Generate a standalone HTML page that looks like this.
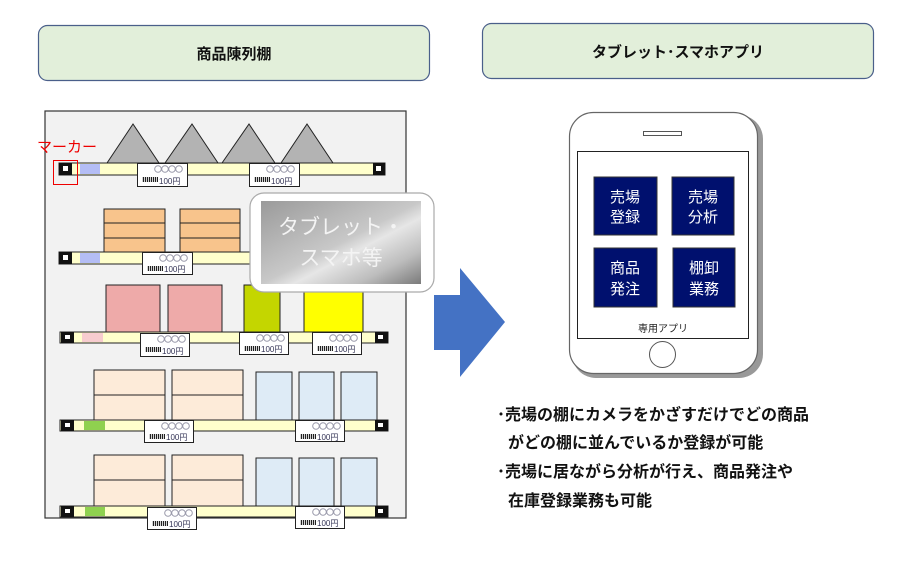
<!DOCTYPE html>
<html><head><meta charset="utf-8"><style>
body{margin:0;background:#fff}
svg{display:block;font-family:"Liberation Sans","Noto Sans CJK JP",sans-serif}
</style></head><body>
<svg width="900" height="572" viewBox="0 0 900 572" xmlns="http://www.w3.org/2000/svg">
<defs>
<linearGradient id="gg" x1="0" y1="0" x2="1" y2="1">
<stop offset="0" stop-color="#9a9a9a"/><stop offset="0.5" stop-color="#c8c8c8"/><stop offset="0.6" stop-color="#e6e6e6"/><stop offset="0.8" stop-color="#bdbdbd"/><stop offset="1" stop-color="#7a7a7a"/>
</linearGradient>
<pattern id="bc" width="2" height="5" patternUnits="userSpaceOnUse"><rect width="1.2" height="5" fill="#222"/></pattern>
</defs>
<!-- headers -->
<rect x="38.5" y="25.5" width="391" height="55" rx="9" fill="#e2efda" stroke="#4a5f8a" stroke-width="1.2"/>
<text x="234" y="59" font-size="15" font-weight="bold" text-anchor="middle" fill="#111">商品陳列棚</text>
<rect x="482.5" y="23.5" width="391" height="55" rx="9" fill="#e2efda" stroke="#4a5f8a" stroke-width="1.2"/>
<text x="678" y="57" font-size="15" font-weight="bold" text-anchor="middle" fill="#111">タブレット･スマホアプリ</text>

<!-- shelf frame -->
<rect x="45" y="111" width="361" height="407" fill="#f2f2f2" stroke="#333" stroke-width="1.2"/>
<!-- triangles -->
<g fill="#b3b3b3" stroke="#222" stroke-width="1">
<polygon points="107,163 133,124 159,163"/><polygon points="165,163 192,124 218,163"/>
<polygon points="222,163 249,124 275,163"/><polygon points="281,163 307,124 333,163"/>
</g>
<!-- row2 orange -->
<g fill="#f8c48c" stroke="#222" stroke-width="1">
<rect x="104" y="209" width="61" height="14"/><rect x="104" y="223" width="61" height="15"/><rect x="104" y="238" width="61" height="14"/>
<rect x="180" y="209" width="60" height="14"/><rect x="180" y="223" width="60" height="15"/><rect x="180" y="238" width="60" height="14"/>
</g>
<!-- row3 -->
<g stroke="#222" stroke-width="1">
<rect x="106" y="285" width="54" height="47" fill="#eeaaa9"/><rect x="168" y="285" width="54" height="47" fill="#eeaaa9"/>
<rect x="244" y="285" width="36" height="47" fill="#c4d600"/><rect x="304" y="285" width="59" height="47" fill="#ffff00"/>
</g>
<!-- row4/5 -->
<g stroke="#222" stroke-width="1" fill="#fdebd9">
<rect x="94" y="370" width="71" height="25"/><rect x="94" y="395" width="71" height="25"/>
<rect x="172" y="370" width="71" height="25"/><rect x="172" y="395" width="71" height="25"/>
<rect x="94" y="455" width="71" height="25"/><rect x="94" y="480" width="71" height="26"/>
<rect x="172" y="455" width="71" height="25"/><rect x="172" y="480" width="71" height="26"/>
</g>
<g stroke="#222" stroke-width="1" fill="#deebf6">
<rect x="256" y="372" width="36" height="48"/><rect x="299" y="372" width="35" height="48"/><rect x="341" y="372" width="36" height="48"/>
<rect x="256" y="458" width="36" height="48"/><rect x="299" y="458" width="35" height="48"/><rect x="341" y="458" width="36" height="48"/>
</g>
<!-- bars -->
<g fill="#ffffcc" stroke="#222" stroke-width="1">
<rect x="59" y="163" width="326" height="12"/><rect x="59" y="252" width="200" height="12"/>
<rect x="60" y="332" width="328" height="11"/><rect x="60" y="420" width="328" height="11"/><rect x="60" y="506" width="328" height="11"/>
</g>
<rect x="80" y="164" width="20" height="10" fill="#b4bdf5"/><rect x="80" y="253" width="20" height="10" fill="#b4bdf5"/>
<rect x="82" y="333" width="21" height="9" fill="#f7cccf"/><rect x="84" y="421" width="21" height="9" fill="#8fd14f"/><rect x="85" y="507" width="20" height="9" fill="#8fd14f"/>
<!-- markers -->
<g fill="#111">
<rect x="59" y="163" width="13" height="12"/><rect x="373" y="163" width="12" height="12"/>
<rect x="59" y="252" width="13" height="12"/>
<rect x="61" y="332" width="13" height="11"/><rect x="375" y="332" width="13" height="11"/>
<rect x="61" y="420" width="13" height="11"/><rect x="375" y="420" width="13" height="11"/>
<rect x="61" y="506" width="13" height="11"/><rect x="375" y="506" width="13" height="11"/>
</g>
<g fill="#fff"><rect x="63" y="166" width="5" height="5"/><rect x="376" y="166" width="5" height="5"/><rect x="63" y="255" width="5" height="5"/><rect x="65" y="335" width="5" height="4"/><rect x="378" y="335" width="5" height="4"/><rect x="65" y="423" width="5" height="4"/><rect x="378" y="423" width="5" height="4"/><rect x="65" y="509" width="5" height="4"/><rect x="378" y="509" width="5" height="4"/></g>
<text x="37" y="152" font-size="15" fill="#e00">マーカー</text>
<rect x="53.5" y="160.5" width="24" height="24" fill="none" stroke="#e00" stroke-width="1"/>

<!-- price tags -->
<g font-size="8" fill="#335">
<g transform="translate(137,163)"><rect x="0.5" y="0.5" width="50" height="23" fill="#fff" stroke="#222"/><g fill="none" stroke="#99a"><circle cx="21" cy="6" r="3.3"/><circle cx="28" cy="6" r="3.3"/><circle cx="35" cy="6" r="3.3"/><circle cx="42" cy="6" r="3.3"/></g><rect x="5" y="14" width="16" height="5" fill="url(#bc)"/><text x="22" y="21">100円</text></g>
<g transform="translate(249,163)"><rect x="0.5" y="0.5" width="50" height="23" fill="#fff" stroke="#222"/><g fill="none" stroke="#99a"><circle cx="21" cy="6" r="3.3"/><circle cx="28" cy="6" r="3.3"/><circle cx="35" cy="6" r="3.3"/><circle cx="42" cy="6" r="3.3"/></g><rect x="5" y="14" width="16" height="5" fill="url(#bc)"/><text x="22" y="21">100円</text></g>
<g transform="translate(142,252)"><rect x="0.5" y="0.5" width="50" height="22" fill="#fff" stroke="#222"/><g fill="none" stroke="#99a"><circle cx="21" cy="6" r="3.3"/><circle cx="28" cy="6" r="3.3"/><circle cx="35" cy="6" r="3.3"/><circle cx="42" cy="6" r="3.3"/></g><rect x="5" y="14" width="16" height="5" fill="url(#bc)"/><text x="22" y="20">100円</text></g>
<g transform="translate(140,333)"><rect x="0.5" y="0.5" width="49" height="23" fill="#fff" stroke="#222"/><g fill="none" stroke="#99a"><circle cx="21" cy="6" r="3.3"/><circle cx="28" cy="6" r="3.3"/><circle cx="35" cy="6" r="3.3"/><circle cx="42" cy="6" r="3.3"/></g><rect x="5" y="14" width="16" height="5" fill="url(#bc)"/><text x="22" y="21">100円</text></g>
<g transform="translate(239,332)"><rect x="0.5" y="0.5" width="49" height="22" fill="#fff" stroke="#222"/><g fill="none" stroke="#99a"><circle cx="21" cy="6" r="3.3"/><circle cx="28" cy="6" r="3.3"/><circle cx="35" cy="6" r="3.3"/><circle cx="42" cy="6" r="3.3"/></g><rect x="5" y="14" width="16" height="5" fill="url(#bc)"/><text x="22" y="20">100円</text></g>
<g transform="translate(312,332)"><rect x="0.5" y="0.5" width="49" height="22" fill="#fff" stroke="#222"/><g fill="none" stroke="#99a"><circle cx="21" cy="6" r="3.3"/><circle cx="28" cy="6" r="3.3"/><circle cx="35" cy="6" r="3.3"/><circle cx="42" cy="6" r="3.3"/></g><rect x="5" y="14" width="16" height="5" fill="url(#bc)"/><text x="22" y="20">100円</text></g>
<g transform="translate(144,420)"><rect x="0.5" y="0.5" width="49" height="22" fill="#fff" stroke="#222"/><g fill="none" stroke="#99a"><circle cx="21" cy="6" r="3.3"/><circle cx="28" cy="6" r="3.3"/><circle cx="35" cy="6" r="3.3"/><circle cx="42" cy="6" r="3.3"/></g><rect x="5" y="14" width="16" height="5" fill="url(#bc)"/><text x="22" y="20">100円</text></g>
<g transform="translate(295,420)"><rect x="0.5" y="0.5" width="49" height="21" fill="#fff" stroke="#222"/><g fill="none" stroke="#99a"><circle cx="21" cy="6" r="3.3"/><circle cx="28" cy="6" r="3.3"/><circle cx="35" cy="6" r="3.3"/><circle cx="42" cy="6" r="3.3"/></g><rect x="5" y="14" width="16" height="5" fill="url(#bc)"/><text x="22" y="20">100円</text></g>
<g transform="translate(147,507)"><rect x="0.5" y="0.5" width="49" height="22" fill="#fff" stroke="#222"/><g fill="none" stroke="#99a"><circle cx="21" cy="6" r="3.3"/><circle cx="28" cy="6" r="3.3"/><circle cx="35" cy="6" r="3.3"/><circle cx="42" cy="6" r="3.3"/></g><rect x="5" y="14" width="16" height="5" fill="url(#bc)"/><text x="22" y="20">100円</text></g>
<g transform="translate(295,506)"><rect x="0.5" y="0.5" width="49" height="22" fill="#fff" stroke="#222"/><g fill="none" stroke="#99a"><circle cx="21" cy="6" r="3.3"/><circle cx="28" cy="6" r="3.3"/><circle cx="35" cy="6" r="3.3"/><circle cx="42" cy="6" r="3.3"/></g><rect x="5" y="14" width="16" height="5" fill="url(#bc)"/><text x="22" y="20">100円</text></g>
</g>

<!-- tablet label -->
<rect x="250" y="193" width="184" height="99" rx="14" fill="#fff" stroke="#aaa" stroke-width="1.2"/>
<rect x="261" y="201" width="160" height="83" fill="url(#gg)"/>
<text x="341" y="234" font-size="21" text-anchor="middle" fill="#f4f4f4">タブレット・</text>
<text x="341" y="265" font-size="21" text-anchor="middle" fill="#f4f4f4">スマホ等</text>

<!-- arrow -->
<polygon points="434,295 460,295 460,268 505,322 460,377 460,350 434,350" fill="#4472c4"/>

<!-- phone -->
<rect x="572" y="115" width="191" height="263" rx="24" fill="#999"/>
<rect x="569.5" y="112.5" width="188" height="261" rx="24" fill="#fff" stroke="#666" stroke-width="1.2"/>
<rect x="643.5" y="131.5" width="38" height="4" fill="#fff" stroke="#555"/>
<rect x="577.5" y="151.5" width="171" height="187" fill="#fff" stroke="#222"/>
<g fill="#00106e" stroke="#333">
<rect x="594" y="177" width="63" height="58"/><rect x="672" y="177" width="62" height="58"/>
<rect x="594" y="248" width="63" height="59"/><rect x="673" y="248" width="62" height="59"/>
</g>
<g fill="#fff" font-size="15" text-anchor="middle">
<text x="625" y="202">売場</text><text x="625" y="222">登録</text>
<text x="703" y="202">売場</text><text x="703" y="222">分析</text>
<text x="625" y="273">商品</text><text x="625" y="294">発注</text>
<text x="704" y="273">棚卸</text><text x="704" y="294">業務</text>
</g>
<text x="663" y="332" font-size="10" text-anchor="middle" fill="#222">専用アプリ</text>
<circle cx="662.5" cy="354.5" r="13" fill="#fff" stroke="#555"/>

<!-- bullets -->
<g font-size="16" font-weight="bold" fill="#111">
<text x="497" y="420">･売場の棚にカメラをかざすだけでどの商品</text>
<text x="508" y="448">がどの棚に並んでいるか登録が可能</text>
<text x="497" y="477">･売場に居ながら分析が行え、商品発注や</text>
<text x="508" y="506">在庫登録業務も可能</text>
</g>
</svg>
</body></html>
